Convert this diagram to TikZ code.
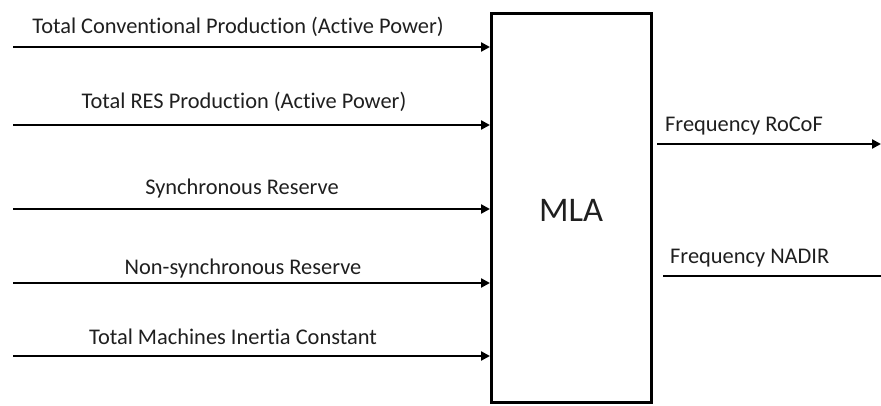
\documentclass[tikz,border=0pt]{standalone}
\usepackage{fontspec}
\setmainfont{Carlito}[Ligatures={NoCommon}]
\usetikzlibrary{arrows.meta}
\begin{document}
\begin{tikzpicture}[x=1pt,y=-1pt,
  lbl/.style={inner sep=0pt, anchor=base, font=\fontsize{22.4}{25}\selectfont, text=black!88},
  flow/.style={line width=2.4pt, -{Triangle[length=9pt,width=9pt]}},
  plain/.style={line width=2.4pt},
  block/.style={draw, line width=3pt, minimum width=160pt, minimum height=389pt, inner sep=0pt}]
\useasboundingbox (0,0) rectangle (881,406);

% central block
\node[block] (mla) at (571.5,208) {};
\node[lbl, font=\fontsize{34.5}{38}\selectfont] (mlatxt) at (571,222) {MLA};

% input signals
\coordinate (i1) at (13,47);
\coordinate (i2) at (13,125);
\coordinate (i3) at (13,209);
\coordinate (i4) at (13,283);
\coordinate (i5) at (13,356);
\draw[flow] (i1) -- (i1 -| mla.west);
\draw[flow] (i2) -- (i2 -| mla.west);
\draw[flow] (i3) -- (i3 -| mla.west);
\draw[flow] (i4) -- (i4 -| mla.west);
\draw[flow] (i5) -- (i5 -| mla.west);

\node[lbl] (t1) at (238,34) {Total Conventional Production (Active Power)};
\node[lbl] (t2) at (244,109) {Total RES Production (Active Power)};
\node[lbl] (t3) at (242,195) {Synchronous Reserve};
\node[lbl] (t4) at (243,275) {Non-synchronous Reserve};
\node[lbl] (t5) at (233,344) {Total Machines Inertia Constant};

% output signals
\coordinate (o1s) at (657,144);
\coordinate (o1e) at (881,144);
\coordinate (o2s) at (663,276);
\coordinate (o2e) at (881,276);
\draw[flow] (o1s) -- (o1e);
\draw[plain] (o2s) -- (o2e);

\node[lbl, anchor=base west] (r1) at (665,132) {Frequency RoCoF};
\node[lbl, anchor=base west] (r2) at (670,264) {Frequency NADIR};
\end{tikzpicture}
\end{document}
